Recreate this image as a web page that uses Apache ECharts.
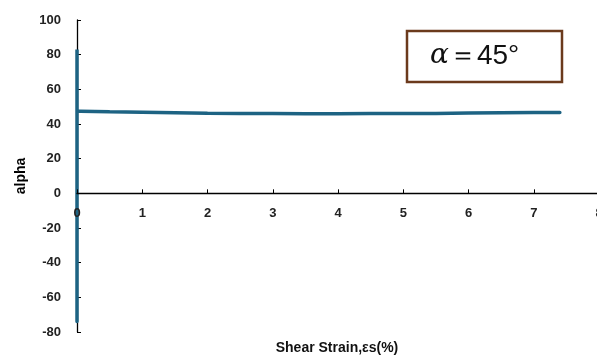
<!DOCTYPE html>
<html>
<head>
<meta charset="utf-8">
<script src="https://cdn.jsdelivr.net/npm/echarts@6/dist/echarts.min.js"></script>
<style>
  html, body { margin: 0; padding: 0; background: #fff; }
  #main { width: 597px; height: 356px; }
</style>
</head>
<body>
<div id="main"></div>
<script>
// strain (%) and alpha values
var strain = [0, 0, 0, 0.05, 0.5, 1, 1.5, 2, 2.5, 3, 3.5, 4, 4.5, 5, 5.5, 6, 6.5, 7, 7.4];
var alpha  = [-74, 83, 47.3, 47.3, 47.0, 46.8, 46.5, 46.2, 46.1, 46.0, 45.9, 45.9, 46.0, 46.0, 46.1, 46.3, 46.5, 46.6, 46.7];
var xTicks = [0, 1, 2, 3, 4, 5, 6, 7, 8];
var yTicks = [-80, -60, -40, -20, 0, 20, 40, 60, 80, 100];

var points = strain.map(function (s, i) { return [s, alpha[i]]; });

var gridTop = 20, gridBottom = 24, H = 356;
var yMin = yTicks[0], yMax = yTicks[yTicks.length - 1];
// move the x axis (line + labels) up to where alpha = 0
var plotH = H - gridTop - gridBottom;
var zeroOffset = -plotH * (0 - yMin) / (yMax - yMin);

var chart = echarts.init(document.getElementById('main'));
chart.setOption({
  animation: false,
  grid: { left: 77, right: -2, top: gridTop, bottom: gridBottom, outerBoundsMode: 'none', containLabel: false },
  xAxis: {
    type: 'value',
    min: xTicks[0], max: xTicks[xTicks.length - 1], interval: 1,
    offset: zeroOffset,
    axisLine: { onZero: false, lineStyle: { color: '#000', width: 1.3 } },
    axisTick: { inside: true, length: 4, lineStyle: { color: '#000' } },
    axisLabel: { color: '#222', fontSize: 13, fontWeight: 'bold', fontFamily: 'Liberation Sans, Arial', margin: 14 },
    splitLine: { show: false },
    z: 5
  },
  yAxis: {
    type: 'value',
    min: yMin, max: yMax, interval: 20,
    name: 'alpha',
    nameLocation: 'middle',
    nameRotate: 90,
    nameGap: 49,
    nameTextStyle: { color: '#000', fontSize: 14, fontWeight: 'bold', fontFamily: 'Liberation Sans, Arial' },
    axisLine: { show: true, onZero: false, lineStyle: { color: '#000', width: 1.3 } },
    axisTick: { inside: true, length: 4, lineStyle: { color: '#000' } },
    axisLabel: { color: '#222', fontSize: 13, fontWeight: 'bold', fontFamily: 'Liberation Sans, Arial', margin: 16 },
    splitLine: { show: false }
  },
  series: [{
    type: 'line',
    data: points,
    showSymbol: false,
    symbol: 'none',
    lineStyle: { color: '#1d6383', width: 3.5, cap: 'round' },
    z: 3
  }],
  graphic: [
    {
      type: 'rect',
      shape: { x: 407, y: 31, width: 155, height: 51 },
      style: { fill: '#fff', stroke: '#6b3a1c', lineWidth: 2.5 }
    },
    {
      type: 'text',
      x: 430, y: 56,
      style: {
        rich: {
          a: { fontSize: 28, fontStyle: 'italic', fontFamily: 'DejaVu Serif, serif', fill: '#111' },
          b: { fontSize: 28, fontFamily: 'Liberation Sans, Arial', fill: '#111' }
        },
        text: '{a|α}{b|＝45°}',
        verticalAlign: 'middle'
      }
    },
    {
      type: 'text',
      x: 337, y: 348,
      style: {
        text: 'Shear Strain,εs(%)',
        fontSize: 14, fontWeight: 'bold', fontFamily: 'Liberation Sans, Arial',
        fill: '#111', align: 'center', verticalAlign: 'middle'
      }
    }
  ]
});
</script>
</body>
</html>
